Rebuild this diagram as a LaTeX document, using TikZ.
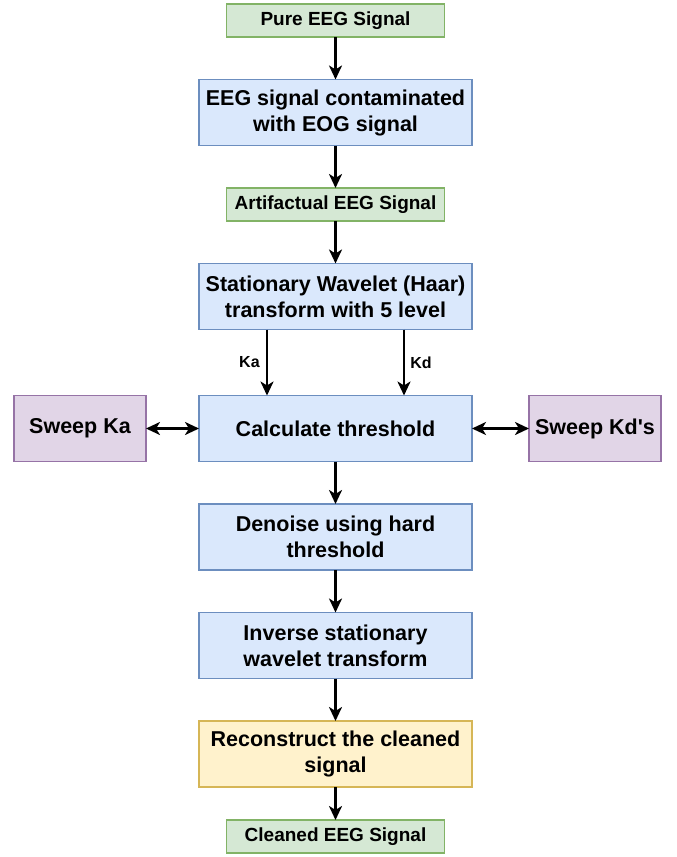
\documentclass[tikz,border=0pt]{standalone}
\usepackage{fontspec}
\setmainfont{Liberation Sans}
\usepackage{tikz}
\usetikzlibrary{positioning,arrows.meta}

\definecolor{greenfill}{HTML}{D5E8D4}
\definecolor{greendraw}{HTML}{82B366}
\definecolor{bluefill}{HTML}{DAE8FC}
\definecolor{bluedraw}{HTML}{6C8EBF}
\definecolor{purplefill}{HTML}{E1D5E7}
\definecolor{purpledraw}{HTML}{9673A6}
\definecolor{yellowfill}{HTML}{FFF2CC}
\definecolor{yellowdraw}{HTML}{D6B656}

\tikzset{
	box/.style={rectangle, line width=1.4pt, align=center, inner sep=2pt, outer sep=0pt,
		font=\fontsize{21.5}{26}\selectfont\bfseries},
	signal/.style={box, draw=greendraw, fill=greenfill, minimum width=218pt, minimum height=33pt,
		font=\fontsize{19}{23}\selectfont\bfseries},
	process/.style={box, draw=bluedraw, fill=bluefill, minimum width=273pt, minimum height=66pt},
	sweep/.style={box, draw=purpledraw, fill=purplefill, minimum width=132pt, minimum height=66pt},
	result/.style={box, draw=yellowdraw, fill=yellowfill, minimum width=273pt, minimum height=66pt},
	flow/.style={line width=2.7pt, -{Stealth[length=14pt,width=13pt,inset=4pt]}},
	both/.style={line width=2.7pt, {Stealth[length=14pt,width=13pt,inset=4pt]}-{Stealth[length=14pt,width=13pt,inset=4pt]}},
	coef/.style={font=\fontsize{16}{19}\selectfont\bfseries, inner sep=3pt}
}

\begin{document}
\begin{tikzpicture}[node distance=42.5pt]
	\useasboundingbox (0pt,0pt) rectangle (677pt,-857pt);

	%% INPUT SIGNALS
	\node[signal, anchor=north] (pure_eeg) at (335.5pt,-4pt) {Pure EEG Signal};
	\node[process, below=of pure_eeg] (contaminated) {EEG signal contaminated\\with EOG signal};
	\node[signal, below=of contaminated] (artifactual) {Artifactual EEG Signal};

	\draw[flow] (pure_eeg) -- (contaminated);
	\draw[flow] (contaminated) -- (artifactual);

	%% WAVELET DECOMPOSITION
	\node[process, below=of artifactual] (swt) {Stationary Wavelet (Haar)\\transform with 5 level};
	\node[process, below=66pt of swt] (calc_thr) {Calculate threshold};

	\draw[flow] (artifactual) -- (swt);
	\draw[flow] ([xshift=-68.5pt]swt.south) -- node[coef, midway, left=3pt] {Ka} ([xshift=-68.5pt]calc_thr.north);
	\draw[flow] ([xshift=68.5pt]swt.south) -- node[coef, midway, right=2pt] {Kd} ([xshift=68.5pt]calc_thr.north);

	% sweeps
	\node[sweep, left=53pt of calc_thr] (sweep_ka) {Sweep Ka};
	\node[sweep, right=57pt of calc_thr] (sweep_kd) {Sweep Kd\textquotesingle s};

	\draw[both] (sweep_ka) -- (calc_thr);
	\draw[both] (calc_thr) -- (sweep_kd);

	%% DENOISING and RECONSTRUCTION
	\node[process, below=of calc_thr] (denoise) {Denoise using hard\\threshold};
	\node[process, below=of denoise] (iswt) {Inverse stationary\\wavelet transform};
	\node[result, below=of iswt] (reconstruct) {Reconstruct the cleaned\\signal};
	\node[signal, below=33pt of reconstruct] (cleaned) {Cleaned EEG Signal};

	\draw[flow] (calc_thr) -- (denoise);
	\draw[flow] (denoise) -- (iswt);
	\draw[flow] (iswt) -- (reconstruct);
	\draw[flow] (reconstruct) -- (cleaned);

\end{tikzpicture}
\end{document}
